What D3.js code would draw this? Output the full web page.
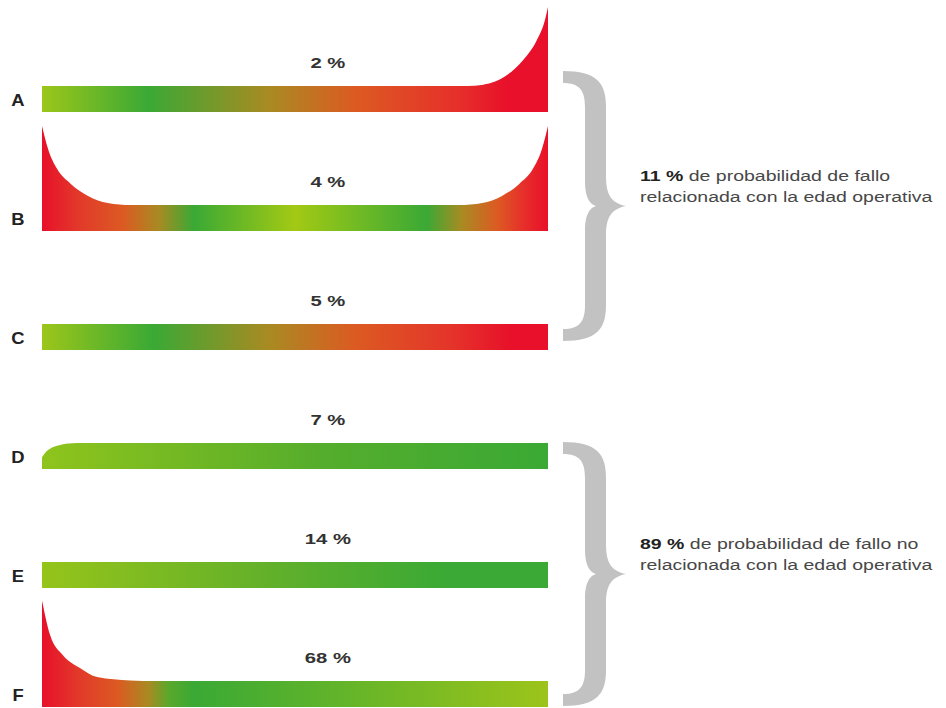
<!DOCTYPE html>
<html>
<head>
<meta charset="utf-8">
<script src="https://cdn.jsdelivr.net/npm/d3@7"></script>
<style>
  html, body { margin: 0; padding: 0; background: #ffffff; }
  svg { display: block; }
</style>
</head>
<body>
<svg id="chart" width="946" height="708"></svg>
<script>
// ---------- DATA ----------
const categories = ["A", "B", "C", "D", "E", "F"];
const probabilities = [2, 4, 5, 7, 14, 68];

// Conditional probability of failure (relative units, 1 = constant level) vs. operating age (0-100)
const curveA = [[0, 1], [50, 1], [84, 1], [87.2, 1.05], [91.9, 1.42], [95.1, 2.0], [97.8, 2.77], [99.4, 3.54], [100, 4.04]];
const curveB = [[0, 4.04], [1.2, 3.15], [3.0, 2.38], [5.7, 1.81], [9.1, 1.35], [13, 1.08], [17.6, 1], [50, 1], [82.4, 1], [87, 1.08], [90.9, 1.35], [94.3, 1.81], [97.0, 2.38], [98.8, 3.15], [100, 4.04]];
const curveC = [[0, 1], [50, 1], [100, 1]];
const curveD = [[0, 0.45], [0.6, 0.62], [1.6, 0.78], [3.2, 0.9], [5.1, 0.98], [7, 1], [50, 1], [100, 1]];
const curveE = [[0, 1], [50, 1], [100, 1]];
const curveF = [[0, 4.1], [1.6, 2.77], [4.1, 2.0], [7.5, 1.5], [10.9, 1.15], [17.4, 1.02], [20, 1], [50, 1], [100, 1]];
const curves = [curveA, curveB, curveC, curveD, curveE, curveF];

const groupPercents = ["11 %", "89 %"];
const groupLine1 = [" de probabilidad de fallo", " de probabilidad de fallo no"];
const groupLine2 = ["relacionada con la edad operativa", "relacionada con la edad operativa"];
const groupMembers = [["A", "B", "C"], ["D", "E", "F"]];

// ---------- STYLE ----------
const RED = "#e8102a", ORANGE = "#dc5a22", OLIVE = "#a98a22", GREEN = "#3aa935", LIME = "#9cc61a";
const gradientStops = {
  A: [[0, LIME], [0.21, GREEN], [0.45, OLIVE], [0.62, ORANGE], [0.82, "#e6302a"], [0.92, RED], [1, RED]],
  B: [[0, RED], [0.07, "#e2382a"], [0.16, ORANGE], [0.23, OLIVE], [0.3, GREEN], [0.5, "#a3c914"], [0.76, GREEN], [0.83, OLIVE], [0.9, ORANGE], [0.95, "#e6302a"], [1, RED]],
  C: [[0, LIME], [0.22, GREEN], [0.45, OLIVE], [0.62, ORANGE], [0.8, "#e4362a"], [0.93, RED], [1, RED]],
  D: [[0, "#8fc41c"], [0.55, "#55ad2c"], [1, GREEN]],
  E: [[0, "#95c41a"], [0.45, "#62b02a"], [0.8, GREEN], [1, GREEN]],
  F: [[0, RED], [0.07, "#e2382a"], [0.15, ORANGE], [0.21, OLIVE], [0.25, "#5aa82c"], [0.3, GREEN], [1, "#9cc41a"]]
};

// ---------- LAYOUT ----------
const svg = d3.select("#chart");
const x = d3.scaleLinear().domain([0, 100]).range([42, 548]);
const rowBottom = d3.scalePoint().domain(categories).range([112, 707]);
const rate = d3.scaleLinear().domain([0, 1]).range([0, 26]);

const defs = svg.append("defs");
categories.forEach(c => {
  const g = defs.append("linearGradient")
    .attr("id", "grad" + c)
    .attr("gradientUnits", "userSpaceOnUse")
    .attr("x1", x(0)).attr("x2", x(100)).attr("y1", 0).attr("y2", 0);
  gradientStops[c].forEach(s => g.append("stop").attr("offset", s[0]).attr("stop-color", s[1]));
});

const rows = svg.selectAll("g.row").data(categories).join("g").attr("class", "row");

rows.append("path")
  .attr("d", (c, i) => {
    const b = rowBottom(c);
    return d3.area()
      .x(d => x(d[0]))
      .y0(b)
      .y1(d => b - rate(d[1]))
      .curve(d3.curveMonotoneX)(curves[i]);
  })
  .attr("fill", c => "url(#grad" + c + ")");

rows.append("text")
  .attr("transform", c => `translate(18,${rowBottom(c) - 6}) scale(1.15,1)`)
  .attr("text-anchor", "middle")
  .attr("font-family", "Liberation Sans, Arial, sans-serif")
  .attr("font-weight", "bold")
  .attr("font-size", 16)
  .attr("fill", "#222")
  .text(c => c);

rows.append("text")
  .attr("transform", c => `translate(${x(56.5)},${rowBottom(c) - 44}) scale(1.35,1)`)
  .attr("text-anchor", "middle")
  .attr("font-family", "Liberation Sans, Arial, sans-serif")
  .attr("font-weight", "bold")
  .attr("font-size", 15)
  .attr("fill", "#333")
  .text((c, i) => probabilities[i] + " %");

// ---------- BRACES ----------
function bracePath(t, b) {
  const m = (t + b) / 2;
  const xe = 563, xi = 585, xo = 606, xt = 626;
  return `M${xe},${t - 6} C${xo - 9},${t - 6} ${xo},${t + 6} ${xo},${t + 30}` +
    ` L${xo},${m - 30} C${xo},${m - 10} ${xo + 6},${m - 3} ${xt},${m}` +
    ` C${xo + 6},${m + 3} ${xo},${m + 10} ${xo},${m + 30}` +
    ` L${xo},${b - 30} C${xo},${b - 6} ${xo - 9},${b + 6} ${xe},${b + 6}` +
    ` L${xe},${b - 6} C${xi - 5},${b - 6} ${xi},${b - 14} ${xi},${b - 30}` +
    ` L${xi},${m + 25} C${xi},${m + 8} ${xi + 5},${m + 2} ${xi + 11},${m}` +
    ` C${xi + 5},${m - 2} ${xi},${m - 8} ${xi},${m - 25}` +
    ` L${xi},${t + 30} C${xi},${t + 14} ${xi - 5},${t + 6} ${xe},${t + 6} Z`;
}

const groups = svg.selectAll("g.group").data(groupMembers).join("g").attr("class", "group");
groups.append("path")
  .attr("d", (mem, i) => {
    const t = rowBottom(mem[0]) - (i === 0 ? 35 : 21);
    const b = rowBottom(mem[mem.length - 1]) - (i === 0 ? 15 : 7);
    return bracePath(t, b);
  })
  .attr("fill", "#c2c2c2");

const gt = groups.append("text")
  .attr("transform", (mem, i) => {
    const t = rowBottom(mem[0]) - (i === 0 ? 35 : 21);
    const b = rowBottom(mem[mem.length - 1]) - (i === 0 ? 15 : 7);
    return `translate(640,${(t + b) / 2 - 25}) scale(1.3,1)`;
  })
  .attr("font-family", "Liberation Sans, Arial, sans-serif")
  .attr("font-size", 15)
  .attr("fill", "#474747");
gt.append("tspan").attr("x", 0).attr("font-weight", "bold").attr("fill", "#222").text((d, i) => groupPercents[i]);
gt.append("tspan").text((d, i) => groupLine1[i]);
gt.append("tspan").attr("x", 0).attr("dy", 21).text((d, i) => groupLine2[i]);
</script>
</body>
</html>
